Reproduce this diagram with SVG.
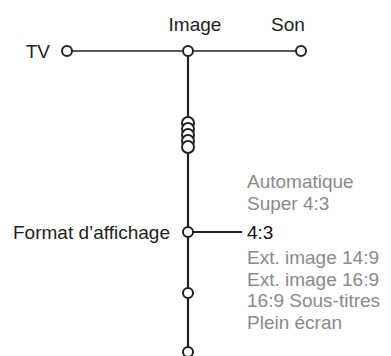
<svg xmlns="http://www.w3.org/2000/svg" width="391" height="356" viewBox="0 0 391 356">
<style>
text{font-family:"Liberation Sans",Arial,sans-serif;font-size:19px;fill:#222}
.opt{fill:#8a8a8a}
.sel{fill:#111}
.node{fill:#fff;stroke:#222;stroke-width:2}
.thin{stroke:#222;stroke-width:1.3;fill:none}
.thick{stroke:#222;stroke-width:2.2;fill:none}
</style>
<rect width="391" height="356" fill="#fff"/>
<g id="connectors">
<line class="thin" x1="67" y1="51" x2="301" y2="51"/>
<line class="thick" x1="188" y1="51" x2="188" y2="356"/>
<line class="thin" x1="188" y1="232" x2="242" y2="232" style="stroke-width:2"/>
</g>
<g id="tv"><circle class="node" cx="67" cy="51" r="5"/><text x="50" y="58" text-anchor="end">TV</text></g>
<g id="image"><circle class="node" cx="188" cy="51" r="5"/><text x="195" y="31" text-anchor="middle">Image</text></g>
<g id="son"><circle class="node" cx="301" cy="51" r="5"/><text x="288" y="31" text-anchor="middle">Son</text></g>
<g id="coil">
<circle class="node" cx="188" cy="123" r="6"/>
<circle class="node" cx="188" cy="129" r="6"/>
<circle class="node" cx="188" cy="135" r="6"/>
<circle class="node" cx="188" cy="141" r="6"/>
<circle class="node" cx="188" cy="147" r="6"/>
</g>
<g id="format"><circle class="node" cx="188" cy="232" r="5"/><text x="170" y="239" text-anchor="end">Format d’affichage</text></g>
<g id="n2"><circle class="node" cx="188" cy="293" r="5"/></g>
<g id="n3"><circle class="node" cx="188" cy="352" r="5"/></g>
<g id="options">
<text class="opt" x="247" y="188">Automatique</text>
<text class="opt" x="247" y="210">Super 4:3</text>
<text class="sel" x="247" y="239">4:3</text>
<text class="opt" x="247" y="264">Ext. image 14:9</text>
<text class="opt" x="247" y="286">Ext. image 16:9</text>
<text class="opt" x="247" y="307">16:9 Sous-titres</text>
<text class="opt" x="247" y="329">Plein écran</text>
</g>
</svg>
